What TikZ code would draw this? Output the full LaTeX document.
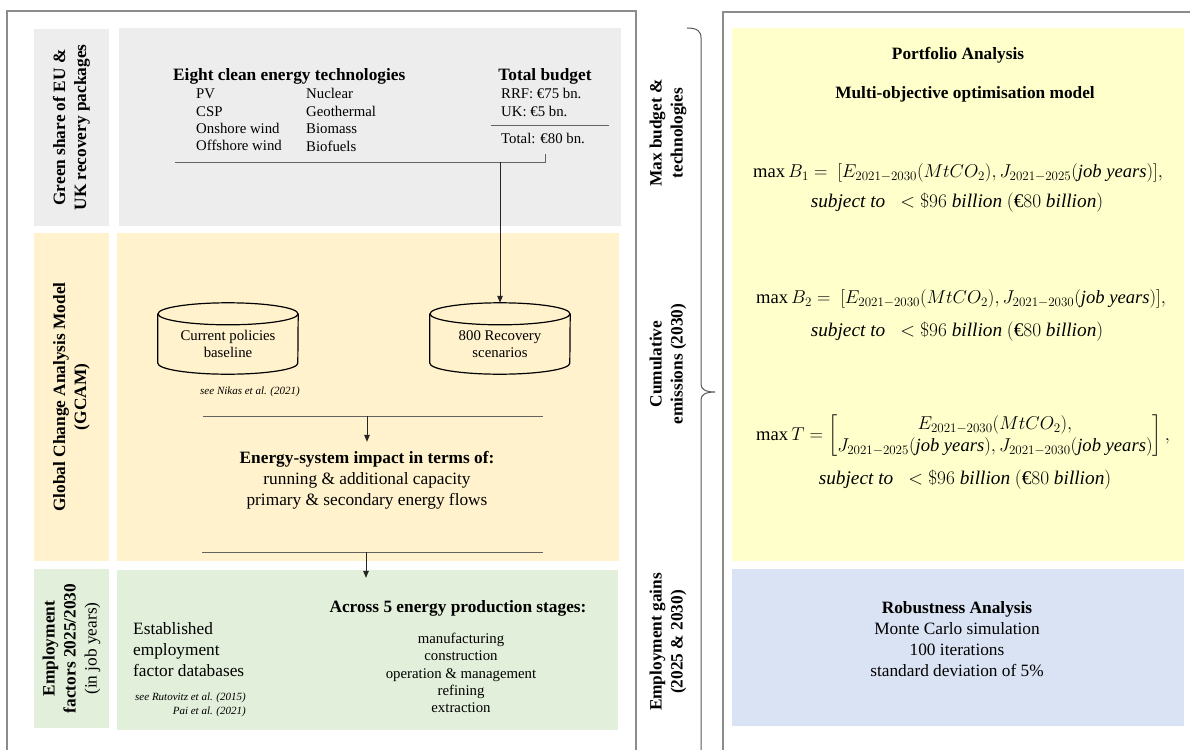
\RequirePackage{fix-cm}
\documentclass[tikz,border=0pt]{standalone}
\usepackage{amsmath}
\usepackage{fontspec}
\setmainfont{Liberation Serif}
\usetikzlibrary{arrows.meta,calc}
\definecolor{greyfill}{RGB}{237,237,237}
\definecolor{creamfill}{RGB}{255,242,204}
\definecolor{greenfill}{RGB}{226,239,218}
\definecolor{yellowfill}{RGB}{255,255,204}
\definecolor{bluefill}{RGB}{218,227,243}
\definecolor{framegrey}{RGB}{140,140,140}
\definecolor{linegrey}{RGB}{100,100,100}
\begin{document}
\begin{tikzpicture}[x=1pt,y=-1pt,
  panel/.style={draw=none, inner sep=0pt, outer sep=0pt},
  lab/.style={font=\fontsize{17.3}{21}\selectfont\bfseries, align=center, rotate=90, inner sep=0pt},
  big/.style={font=\fontsize{17.3}{21}\selectfont, inner sep=0pt},
  bighead/.style={font=\fontsize{17.3}{21}\selectfont\bfseries, inner sep=0pt},
  small/.style={font=\fontsize{14.8}{17.4}\selectfont, inner sep=0pt},
  tiny/.style={font=\fontsize{11}{14}\selectfont\itshape, inner sep=0pt},
  eq/.style={font=\fontsize{18.6}{22}\selectfont, inner sep=0pt},
  subj/.style={font=\fontsize{19.3}{22}\selectfont, inner sep=0pt},
  frameline/.style={draw=framegrey, line width=1.5pt},
  splitline/.style={draw=linegrey, line width=1pt},
  flow/.style={draw=black!85, line width=1pt, -{Triangle[length=7pt,width=5.5pt]}},
  cylline/.style={draw=black, line width=1.2pt},
  bracestyle/.style={draw=black!65, line width=1pt},
]
\useasboundingbox (0,0) rectangle (1190,749);
\clip (0,0) rectangle (1190,749);

% panels
\node[panel, fill=greyfill, minimum width=75pt, minimum height=197pt] (glab) at (71.5,127.5) {};
\node[panel, fill=greyfill, minimum width=502pt, minimum height=198pt] (gmain) at (370,127) {};
\node[panel, fill=creamfill, minimum width=75pt, minimum height=328pt] (clab) at (71.5,397) {};
\node[panel, fill=creamfill, minimum width=502pt, minimum height=328pt] (cmain) at (368,397) {};
\node[panel, fill=greenfill, minimum width=75pt, minimum height=159pt] (elab) at (71.5,648.5) {};
\node[panel, fill=greenfill, minimum width=501pt, minimum height=160pt] (emain) at (367.5,650) {};
\node[panel, fill=yellowfill, minimum width=452pt, minimum height=533pt] (ymain) at (958,294.5) {};
\node[panel, fill=bluefill, minimum width=452pt, minimum height=157pt] (bmain) at (958,647.5) {};

% frames
\draw[frameline] (7,760) -- (7,11) -- (636,11) -- (636,760);
\draw[frameline] (723,760) -- (723,12) -- (1200,12);

% brace
\draw[bracestyle] (687,28) .. controls (697,28) and (701,31) .. (701,38) -- (701,384)
  .. controls (701,389) and (705,392) .. (715,392)
  .. controls (705,392) and (701,395) .. (701,400) -- (701,760);

% rotated labels
\node[lab] (glabtxt) at (glab.center) {Green share of EU \&\\UK recovery packages};
\node[lab] (clabtxt) at (clab.center) {Global Change Analysis Model\\(GCAM)};
\node[lab] (elabtxt) at (elab.center) {Employment\\factors 2025/2030\\\mdseries(in job years)};
\node[lab] (rl1) at (668,133) {Max budget \&\\technologies};
\node[lab] (rl2) at (668,364) {Cumulative\\emissions (2030)};
\node[lab] (rl3) at (668,642) {Employment gains\\(2025 \& 2030)};

% top section
\node[bighead, anchor=west] (techhead) at (173,76) {Eight clean energy technologies};
\node[small, anchor=west, align=left] (techcol1) at (196,120) {PV\\CSP\\Onshore wind\\Offshore wind};
\node[small, anchor=west, align=left] (techcol2) at (306,120) {Nuclear\\Geothermal\\Biomass\\Biofuels};
\node[bighead] (budgethead) at (545,76) {Total budget};
\node[small, anchor=west, align=left] (budgetparts) at (501,102.5) {RRF: €75 bn.\\UK: €5 bn.};
\node[small, anchor=west] (budgettotal) at (501,138) {Total: €80 bn.};
\coordinate (bl1) at (491,125);
\coordinate (bl2) at (609,125);
\draw[splitline] (bl1) -- (bl2);
\coordinate (tl1) at (175,162);
\coordinate (tl2) at (545,162);
\coordinate (tl3) at (545,154);
\coordinate (topsplit) at (500,162);
\draw[splitline] (tl1) -- (tl2) -- (tl3);

% cylinders
\node[small, align=center, minimum width=140pt, minimum height=60pt] (cyl1) at (228,344) {Current policies\\baseline};
\node[small, align=center, minimum width=140pt, minimum height=60pt] (cyl2) at (500,344) {800 Recovery\\scenarios};
\foreach \c in {cyl1,cyl2} {
  \draw[cylline] (\c.north west) -- ($(\c.south west)+(0,-11)$)
    arc[start angle=180, end angle=360, x radius=70pt, y radius=11pt] -- (\c.north east);
  \draw[cylline] (\c.north) ellipse [x radius=70pt, y radius=11pt];
}
\draw[flow, shorten >=11pt] (topsplit) -- (cyl2.north);
\node[tiny, anchor=east] (nikas) at (300,392) {see Nikas et al. (2021)};

% middle split
\coordinate (ml1) at (203,416);
\coordinate (ml2) at (543,416);
\coordinate (midsplit) at (367,416);
\draw[splitline] (ml1) -- (ml2);
\node[big, align=center] (energy) at (367,480) {\textbf{Energy-system impact in terms of:}\\running \& additional capacity\\primary \& secondary energy flows};
\draw[flow, shorten >=9pt] (midsplit) -- (midsplit |- energy.north);

% bottom split
\coordinate (bl3) at (202,552);
\coordinate (bl4) at (543,552);
\coordinate (botsplit) at (366,552);
\draw[splitline] (bl3) -- (bl4);
\node[bighead] (across) at (458,608) {Across 5 energy production stages:};
\draw[flow, shorten >=22pt] (botsplit) -- (botsplit |- across.north);
\node[small, align=center] (stages) at (461,673) {manufacturing\\construction\\operation \& management\\refining\\extraction};
\node[big, anchor=west, align=left] (established) at (133,650) {Established\\employment\\factor databases};
\node[tiny, anchor=east, align=right] (rutovitz) at (246,705) {see Rutovitz et al. (2015)\\Pai et al. (2021)};

% right panel
\node[bighead] (portfolio) at (958,55) {Portfolio Analysis};
\node[bighead] (moo) at (965,94) {Multi-objective optimisation model};
\node[eq] (eqbone) at (958,173) {$\max B_1 = \ [E_{2021-2030}(MtCO_2), J_{2021-2025}(\mathit{job\ years})],$};
\node[subj] (subbone) at (957,203) {$\mathit{subject\ to}\ \ < \$96\ \mathit{billion}\ (\text{€}80\ \mathit{billion})$};
\node[eq] (eqbtwo) at (961,299) {$\max B_2 = \ [E_{2021-2030}(MtCO_2), J_{2021-2030}(\mathit{job\ years})],$};
\node[subj] (subbtwo) at (957,332) {$\mathit{subject\ to}\ \ < \$96\ \mathit{billion}\ (\text{€}80\ \mathit{billion})$};
\node[eq] (eqt) at (963,436) {$\max T = \begin{bmatrix} E_{2021-2030}(MtCO_2), \\ J_{2021-2025}(\mathit{job\ years}), J_{2021-2030}(\mathit{job\ years}) \end{bmatrix},$};
\node[subj] (subt) at (965,480) {$\mathit{subject\ to}\ \ < \$96\ \mathit{billion}\ (\text{€}80\ \mathit{billion})$};
\node[big, align=center] (robust) at (957,639) {\textbf{Robustness Analysis}\\Monte Carlo simulation\\100 iterations\\standard deviation of 5\%};
\end{tikzpicture}
\end{document}
